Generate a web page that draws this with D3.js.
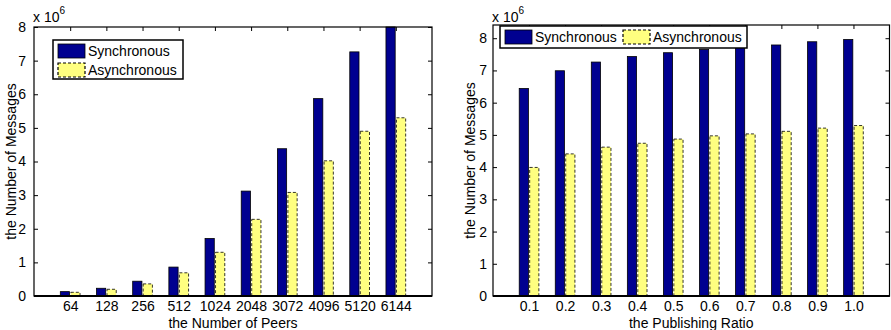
<!DOCTYPE html>
<html>
<head>
<meta charset="utf-8">
<script src="https://cdnjs.cloudflare.com/ajax/libs/d3/7.8.5/d3.min.js"></script>
<style>
  body { margin: 0; background: #fff; }
  svg { display: block; font-family: "Liberation Sans", Arial, sans-serif; }
</style>
</head>
<body>
<div id="chart"></div>
<script>
// data, values in units of 10^6 messages
var peers = ["64", "128", "256", "512", "1024", "2048", "3072", "4096", "5120", "6144"];
var peersSync = [0.13, 0.23, 0.44, 0.86, 1.71, 3.12, 4.38, 5.87, 7.26, 8.0];
var peersAsync = [0.11, 0.20, 0.36, 0.69, 1.30, 2.28, 3.08, 4.02, 4.90, 5.30];

var ratios = ["0.1", "0.2", "0.3", "0.4", "0.5", "0.6", "0.7", "0.8", "0.9", "1.0"];
var ratioSync = [6.44, 6.99, 7.26, 7.43, 7.55, 7.65, 7.72, 7.79, 7.89, 7.96];
var ratioAsync = [3.99, 4.41, 4.62, 4.74, 4.87, 4.97, 5.03, 5.11, 5.21, 5.29];

var yTicks = [0, 1, 2, 3, 4, 5, 6, 7, 8];
var seriesNames = ["Synchronous", "Asynchronous"];

var syncColor = "#000090";
var asyncColor = "#ffff80";

var svg = d3.select("#chart").append("svg")
            .attr("width", 891)
            .attr("height", 330);

function drawChart(opt) {
  var x = d3.scaleLinear().domain([0, 11]).range([opt.left, opt.right]);
  var y = d3.scaleLinear().domain([0, opt.ymax]).range([opt.bottom, opt.top]);
  var g = svg.append("g");
  var bw = 0.255, off = 0.145;

  // bars
  g.selectAll("rect.sync")
   .data(opt.sync)
   .enter().append("rect")
   .attr("x", function(d, i) { return x(i + 1 - off - bw / 2); })
   .attr("width", x(bw) - x(0))
   .attr("y", function(d) { return y(Math.min(d, opt.ymax)); })
   .attr("height", function(d) { return y(0) - y(Math.min(d, opt.ymax)); })
   .attr("fill", syncColor)
   .attr("stroke", "#000")
   .attr("stroke-width", 0.8);

  g.selectAll("rect.async")
   .data(opt.async)
   .enter().append("rect")
   .attr("x", function(d, i) { return x(i + 1 + off - bw / 2); })
   .attr("width", x(bw) - x(0))
   .attr("y", function(d) { return y(d); })
   .attr("height", function(d) { return y(0) - y(d); })
   .attr("fill", asyncColor)
   .attr("stroke", "#000")
   .attr("stroke-width", 0.8)
   .attr("stroke-dasharray", "3,2");

  // left axis, ticks inward
  var yl = g.append("g")
            .attr("transform", "translate(" + opt.left + ",0)")
            .call(d3.axisLeft(y).tickValues(yTicks).tickSize(-4).tickPadding(opt.ypad).tickFormat(d3.format("d")));
  // right axis ticks
  var yr = g.append("g")
            .attr("transform", "translate(" + opt.right + ",0)")
            .call(d3.axisRight(y).tickValues(yTicks).tickSize(-4).tickFormat(""));
  // top ticks
  var xt = g.append("g")
            .attr("transform", "translate(0," + opt.top + ")")
            .call(d3.axisTop(x).tickValues(d3.range(1, 11)).tickSize(-4).tickFormat(""));
  // bottom labels
  var xb = g.append("g")
            .attr("transform", "translate(0," + opt.bottom + ")")
            .call(d3.axisBottom(x).tickValues(d3.range(1, 11)).tickSize(0).tickPadding(5)
                  .tickFormat(function(d) { return opt.cats[d - 1]; }));

  [yl, yr, xt, xb].forEach(function(a) {
    a.select(".domain").remove();
    a.selectAll("text").attr("font-size", 14).attr("fill", "#000")
     .attr("font-family", "Liberation Sans, Arial, sans-serif");
    a.selectAll("line").attr("stroke", "#000");
  });

  // frame
  g.append("rect")
   .attr("x", opt.left).attr("y", opt.top)
   .attr("width", opt.right - opt.left).attr("height", opt.bottom - opt.top)
   .attr("fill", "none").attr("stroke", "#000").attr("stroke-width", 1.2);
  g.append("line")
   .attr("x1", opt.left).attr("x2", opt.right)
   .attr("y1", opt.bottom).attr("y2", opt.bottom)
   .attr("stroke", "#000").attr("stroke-width", 2);

  // x 10^6
  var t = g.append("text")
           .attr("x", opt.left - 1).attr("y", 22)
           .attr("font-size", 14);
  t.append("tspan").text("x 10");
  t.append("tspan").attr("dy", -8).attr("font-size", 10).text("6");

  // axis titles
  g.append("text")
   .attr("x", (opt.left + opt.right) / 2).attr("y", 327.5)
   .attr("text-anchor", "middle").attr("font-size", 14)
   .text(opt.xlabel);
  g.append("text")
   .attr("transform", "translate(" + opt.ylabelX + "," + ((opt.top + opt.bottom) / 2) + ") rotate(-90)")
   .attr("text-anchor", "middle").attr("font-size", 14)
   .text("the Number of Messages");

  // legend
  var L = opt.legend;
  var lg = g.append("g");
  lg.append("rect")
    .attr("x", L.x).attr("y", L.y).attr("width", L.w).attr("height", L.h)
    .attr("fill", "#fff").attr("stroke", "#000").attr("stroke-width", 1.5);
  seriesNames.forEach(function(name, i) {
    var sx = L.x + 5 + (L.horiz ? i * 118 : 0);
    var sy = L.y + 4 + (L.horiz ? 0 : i * 19);
    lg.append("rect")
      .attr("x", sx).attr("y", sy).attr("width", 27).attr("height", 14)
      .attr("fill", i == 0 ? syncColor : asyncColor)
      .attr("stroke", "#000").attr("stroke-width", i == 0 ? 0.8 : 1.2)
      .attr("stroke-dasharray", i == 0 ? null : "3,2");
    lg.append("text")
      .attr("x", sx + 30).attr("y", sy + 12)
      .attr("font-size", 14)
      .text(name);
  });
}

drawChart({
  cats: peers, sync: peersSync, async: peersAsync,
  left: 34, right: 432, top: 27, bottom: 296, ymax: 8,
  xlabel: "the Number of Peers", ylabelX: 16, ypad: 8,
  legend: {x: 53, y: 40, w: 130, h: 39, horiz: false}
});

drawChart({
  cats: ratios, sync: ratioSync, async: ratioAsync,
  left: 493, right: 889.5, top: 25, bottom: 296, ymax: 8.41,
  xlabel: "the Publishing Ratio", ylabelX: 475, ypad: 6,
  legend: {x: 500, y: 26, w: 247, h: 22, horiz: true}
});
</script>
</body>
</html>
